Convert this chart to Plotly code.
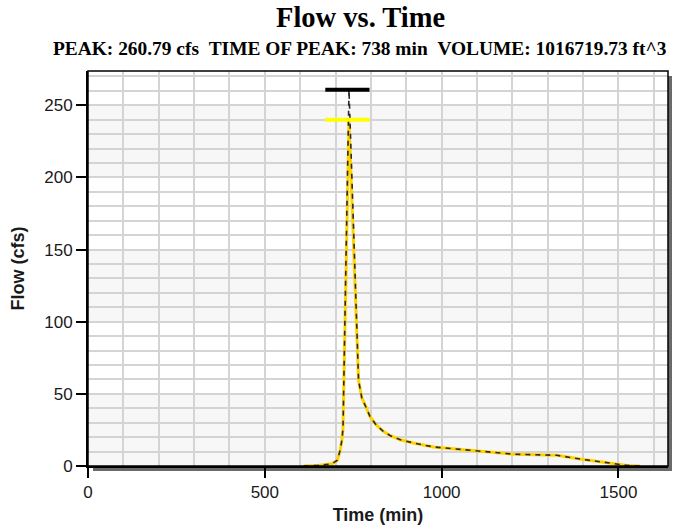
import plotly.graph_objects as go

# ---- data ----
time_min = [610, 650, 690, 705, 713, 718, 721, 738, 765, 774, 782, 798, 815, 835,
            855, 883, 920, 977, 1040, 1109, 1166, 1203, 1260, 1326, 1392, 1450,
            1496, 1524, 1560]
flow_computed = [0, 0.4, 1.5, 4, 11, 18, 26, 260.79, 59.4, 47.5, 43, 34, 28.5, 24,
                 21, 18.2, 16, 13.2, 11.8, 10, 9, 8.2, 8, 7.4, 4.8, 3,
                 1.5, 0.4, 0]
flow_observed = [0, 0.4, 1.5, 4, 11, 18, 26, 240, 59.4, 47.5, 43, 34, 28.5, 24,
                 21, 18.2, 16, 13.2, 11.8, 10, 9, 8.2, 8, 7.4, 4.8, 3,
                 1.5, 0.4, 0]
peak_bar_time = [671, 796]
peak_computed = [260.79, 260.79]
peak_observed = [240, 240]

x_ticks = [0, 500, 1000, 1500]
y_ticks = [0, 50, 100, 150, 200, 250]
band_ranges = [(0, 50), (100, 150), (200, 250)]

title_text = "Flow vs. Time"
subtitle_text = ("PEAK: 260.79 cfs\u00a0\u00a0TIME OF PEAK: 738 min\u00a0\u00a0"
                 "VOLUME: 1016719.73 ft^3")

fig = go.Figure()

fig.add_trace(go.Scatter(x=time_min, y=flow_observed, mode="lines",
                         line=dict(color="#FFD200", width=3), showlegend=False,
                         hoverinfo="skip"))
fig.add_trace(go.Scatter(x=time_min, y=flow_computed, mode="lines",
                         line=dict(color="#2a2a2a", width=1.6, dash="5px,5px"),
                         showlegend=False))
fig.add_trace(go.Scatter(x=peak_bar_time, y=peak_computed, mode="lines",
                         line=dict(color="#000000", width=4), showlegend=False))
fig.add_trace(go.Scatter(x=peak_bar_time, y=peak_observed, mode="lines",
                         line=dict(color="#FFFF00", width=4), showlegend=False))

W, H = 673, 531
ml, mr, mt, mb = 88, 5, 71, 65
pw, ph = W - ml - mr, H - mt - mb

shapes = [
    # drop shadow
    dict(type="rect", xref="paper", yref="paper", layer="below",
         x0=5 / pw, x1=1 + 4 / pw, y0=-5 / ph, y1=1 - 5 / ph,
         fillcolor="#6a6a6a", line=dict(width=0)),
    # white plot area
    dict(type="rect", xref="paper", yref="paper", layer="below",
         x0=0, x1=1, y0=0, y1=1, fillcolor="#ffffff", line=dict(width=0)),
]
for y0, y1 in band_ranges:
    shapes.append(dict(type="rect", xref="paper", yref="y", layer="below",
                       x0=0, x1=1, y0=y0, y1=y1, fillcolor="#f7f7f7",
                       line=dict(width=0)))
# frame
shapes.append(dict(type="rect", xref="paper", yref="paper", layer="above",
                   x0=0, x1=1, y0=0, y1=1, line=dict(color="#000000", width=1.5)))

tick_font = dict(family="Liberation Sans, Arial", size=17, color="#1a1a1a")
title_font = dict(family="Liberation Sans, Arial", size=18, color="#1a1a1a")

fig.update_layout(
    width=W, height=H,
    margin=dict(l=ml, r=mr, t=mt, b=mb, autoexpand=False),
    paper_bgcolor="#ffffff",
    plot_bgcolor="rgba(0,0,0,0)",
    shapes=shapes,
    showlegend=False,
    xaxis=dict(
        range=[0, 1640], tickvals=x_ticks, ticks="outside", ticklen=10,
        tickwidth=1.5, tickcolor="#000000", showline=True, linewidth=2,
        linecolor="#000000", showgrid=True, gridcolor="#d4d4d4", gridwidth=1.5,
        minor=dict(dtick=100, tick0=0, showgrid=True, gridcolor="#d4d4d4",
                   gridwidth=1.5),
        zeroline=False, tickfont=tick_font,
        title=dict(text="<b>Time (min)</b>", font=title_font, standoff=7),
    ),
    yaxis=dict(
        range=[0, 273.8], tickvals=y_ticks, ticks="outside", ticklen=10,
        tickwidth=1.5, tickcolor="#000000", showline=True, linewidth=2,
        linecolor="#000000", showgrid=True, gridcolor="#d4d4d4", gridwidth=1.5,
        minor=dict(dtick=10, tick0=0, showgrid=True, gridcolor="#d4d4d4",
                   gridwidth=1.5),
        zeroline=False, tickfont=tick_font,
        title=dict(text="<b>Flow (cfs)</b>", font=title_font, standoff=15),
    ),
    annotations=[
        dict(text="<b>" + title_text + "</b>", xref="paper", yref="paper",
             x=(360 - ml) / pw, y=1 + (mt - 18) / ph, xanchor="center",
             yanchor="middle", showarrow=False,
             font=dict(family="Liberation Serif, Times New Roman", size=28.5,
                       color="#000000")),
        dict(text="<b>" + subtitle_text + "</b>", xref="paper", yref="paper",
             x=(360 - ml) / pw, y=1 + (mt - 49) / ph, xanchor="center",
             yanchor="middle", showarrow=False,
             font=dict(family="Liberation Serif, Times New Roman", size=19.4,
                       color="#000000")),
    ],
)

fig.write_html(
    "out.html",
    config={"displayModeBar": False},
    post_script="document.body.style.margin='0';document.body.style.padding='0';",
)
